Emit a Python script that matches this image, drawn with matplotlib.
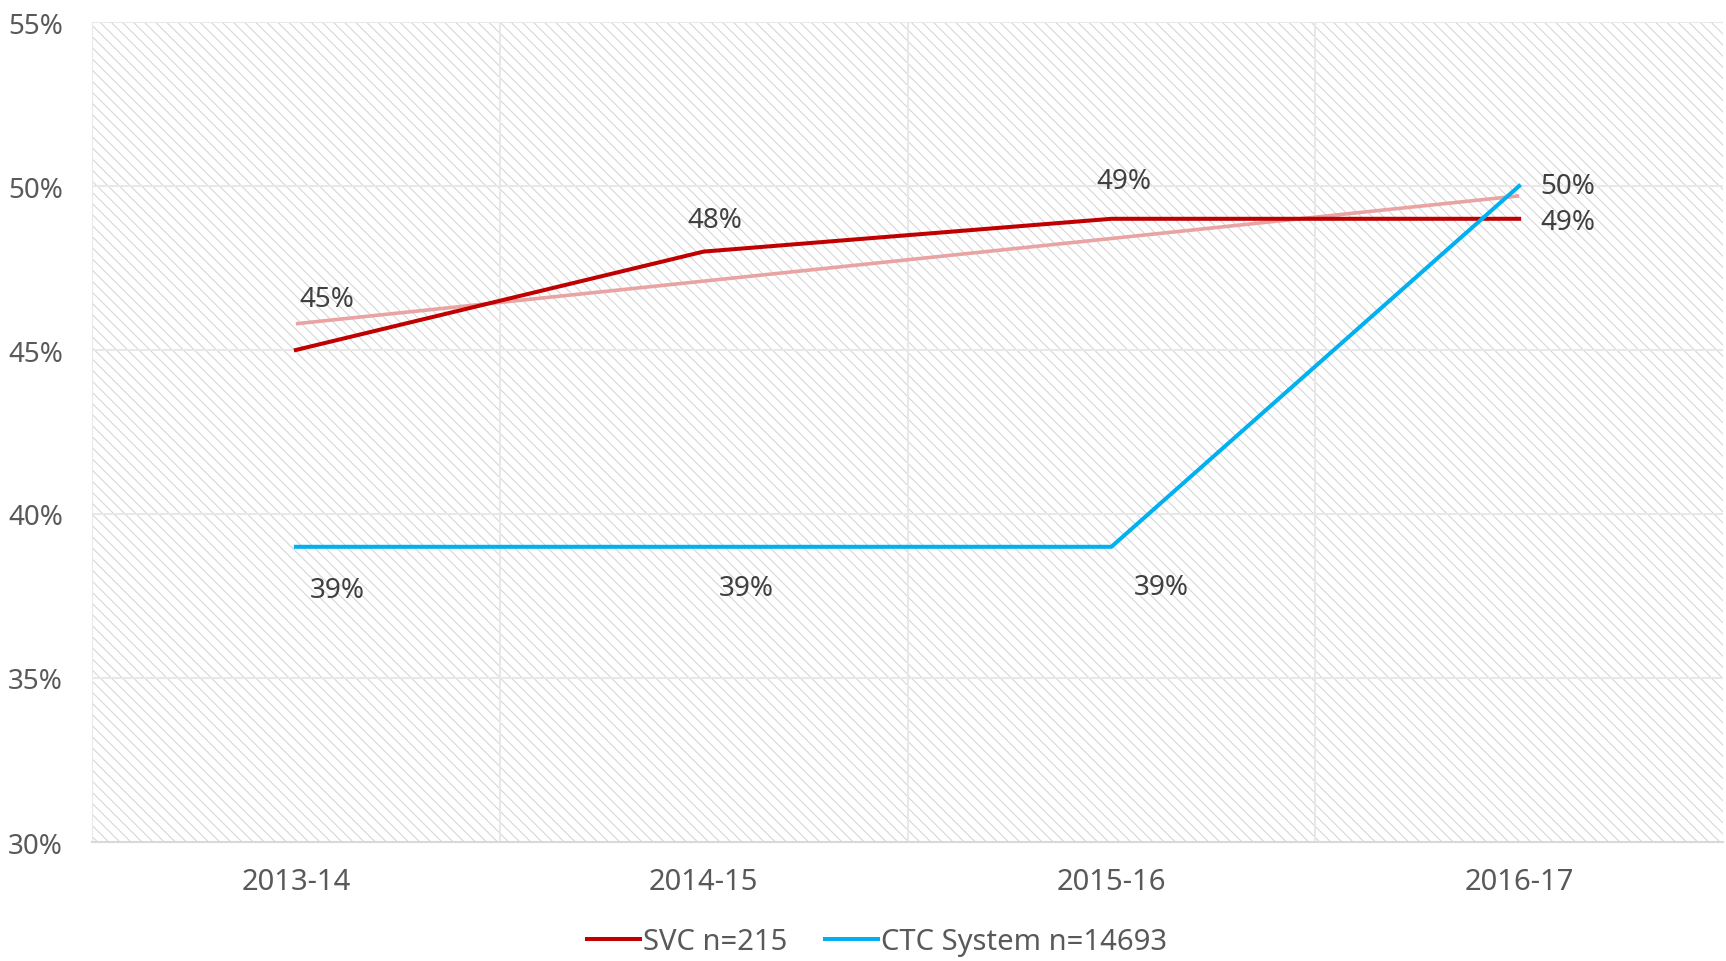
import matplotlib
matplotlib.use("Agg")
import matplotlib.pyplot as plt
from matplotlib.patches import Rectangle
import numpy as np

# --- Data ---
years = ["2013-14", "2014-15", "2015-16", "2016-17"]
svc = [45, 48, 49, 49]
ctc = [39, 39, 39, 50]
svc_label = "SVC n=215"
ctc_label = "CTC System n=14693"

# label offsets in points (placement only)
svc_offsets = [(22, 37), (8, 23), (9, 27), (35, -2)]
ctc_offsets = [(30, -31), (31, -30), (36, -29), (35, 0)]

RED = "#C00000"
BLUE = "#00B0F0"
TREND = "#E9A3A3"
TICK_COLOR = "#595959"
LABEL_COLOR = "#404040"

plt.rcParams['font.family'] = ['Noto Sans', 'DejaVu Sans']
plt.rcParams['hatch.linewidth'] = 0.7

fig = plt.figure(figsize=(17.26, 9.62), dpi=100)
ax = fig.add_axes([92 / 1726, 1 - 843 / 962, (1723 - 92) / 1726, (843 - 23) / 962])

x = np.arange(len(years))

# hatched background
bg = Rectangle((0, 0), 1, 1, transform=ax.transAxes, facecolor="white",
               edgecolor="#d2d2d2", hatch="\\\\\\", linewidth=0, zorder=0)
ax.add_patch(bg)

# grid
for yv in range(30, 56, 5):
    ax.axhline(yv, color="#e8e8e8", lw=1.5, zorder=1)
for xv in [-0.5, 0.5, 1.5, 2.5]:
    ax.axvline(xv, color="#e8e8e8", lw=1.5, zorder=1)

# linear trend of SVC
coef = np.polyfit(x, svc, 1)
ax.plot(x, np.polyval(coef, x), color=TREND, lw=2.6, zorder=2, solid_capstyle="butt")

ax.plot(x, svc, color=RED, lw=2.9, zorder=3, label=svc_label)
ax.plot(x, ctc, color=BLUE, lw=2.9, zorder=3, label=ctc_label)

for xi, v, off in zip(x, svc, svc_offsets):
    ax.annotate(f"{v}%", (xi, v), xytext=off, textcoords="offset points",
                ha="center", va="center", fontsize=20, color=LABEL_COLOR, zorder=4)
for xi, v, off in zip(x, ctc, ctc_offsets):
    ax.annotate(f"{v}%", (xi, v), xytext=off, textcoords="offset points",
                ha="center", va="center", fontsize=20, color=LABEL_COLOR, zorder=4)

ax.set_xlim(-0.5, 3.5)
ax.set_ylim(30, 55)
ax.set_xticks(x)
ax.set_xticklabels(years)
ax.set_yticks(range(30, 56, 5))
ax.set_yticklabels([f"{v}%" for v in range(30, 56, 5)])
ax.tick_params(axis="both", length=0, labelcolor=TICK_COLOR)
ax.tick_params(axis="y", pad=21, labelsize=20)
ax.tick_params(axis="x", pad=18, labelsize=21)

for s in ["top", "right", "left"]:
    ax.spines[s].set_visible(False)
ax.spines["bottom"].set_color("#d9d9d9")
ax.spines["bottom"].set_linewidth(1.5)

leg = fig.legend(loc="center", bbox_to_anchor=(877 / 1726, 1 - 943 / 962), ncol=2,
                 frameon=False, fontsize=21, handlelength=1.8, handletextpad=0.1,
                 columnspacing=1.3)
for t in leg.get_texts():
    t.set_color(TICK_COLOR)

fig.savefig("out.png", dpi=100)
